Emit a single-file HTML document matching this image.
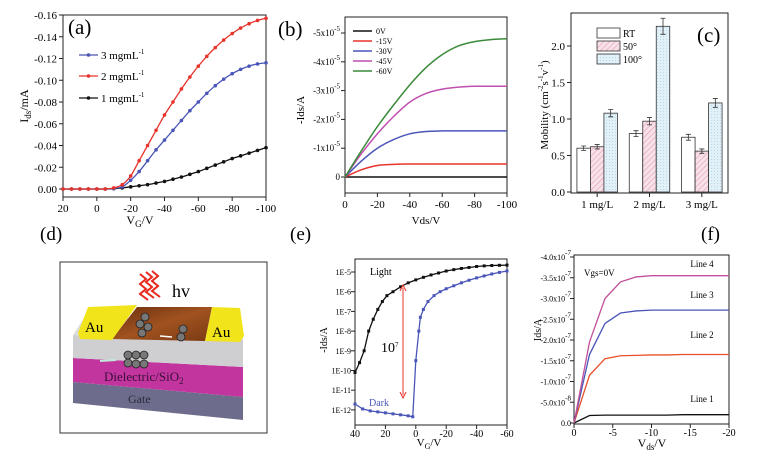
<!DOCTYPE html>
<html><head><meta charset="utf-8"><style>
html,body{margin:0;padding:0;background:#fff;}
svg{display:block;font-family:"Liberation Serif",serif;}
</style></head><body>
<svg id="fig" width="780" height="462" viewBox="0 0 780 462" xmlns="http://www.w3.org/2000/svg">
<defs>
<pattern id="hatchPink" patternUnits="userSpaceOnUse" width="4" height="4" patternTransform="rotate(45)"><rect width="4" height="4" fill="#f8e2ea"/><line x1="0" y1="0" x2="0" y2="4" stroke="#e6a6bb" stroke-width="1.4"/></pattern>
<pattern id="hatchBlue" patternUnits="userSpaceOnUse" width="3" height="3"><rect width="3" height="3" fill="#e2f0f8"/><rect width="1" height="1" fill="#b9d9ea"/></pattern>
<linearGradient id="brownG" x1="0" y1="0" x2="1" y2="1"><stop offset="0" stop-color="#6b2f10"/><stop offset="0.5" stop-color="#a0521f"/><stop offset="1" stop-color="#7a3a14"/></linearGradient>
</defs>

<!-- Panel labels -->
<text x="68" y="34" font-size="21">(a)</text>
<text x="278" y="36" font-size="21">(b)</text>
<text x="697" y="42" font-size="21">(c)</text>
<text x="40" y="240" font-size="19">(d)</text>
<text x="290" y="240" font-size="19">(e)</text>
<text x="701" y="240" font-size="19">(f)</text>

<!-- Panel d schematic -->
<g>
<rect x="60" y="262" width="207" height="171" fill="#fff" stroke="#333" stroke-width="1"/>
<polygon points="73,382 243,397 243,420 73,403" fill="#6e6c8c"/>
<polygon points="73,358 243,367 243,397 73,382" fill="#c2359e"/>
<polygon points="73,335 243,340 243,367 73,358" fill="#cfcfd2"/>
<polygon points="73,335 84,318 240,318 243,340" fill="#dcdcdc"/>
<polygon points="112,339 137,307 212,307 205,341" fill="url(#brownG)"/>
<polygon points="78,333 88,307 137,305 112,340 80,339" fill="#f2e41a"/>
<polygon points="205,341 212,307 240,308 244,336 240,342" fill="#f2e41a"/>
<text x="85" y="332" font-size="15">Au</text>
<text x="212" y="337" font-size="15">Au</text>
<g fill="none" stroke="#e8281c" stroke-width="2">
<path d="M140,274 l6,5 l-6,5 l6,5 l-6,5 l8,6"/><path d="M146,272 l6,5 l-6,5 l6,5 l-6,5 l8,6"/><path d="M152,271 l6,5 l-6,5 l6,5 l-6,5 l8,6"/>
</g>
<text x="172" y="297" font-size="18">hv</text>
<g fill="#777" stroke="#222" stroke-width="0.8">
<circle cx="145" cy="317" r="4"/><circle cx="140" cy="324" r="4"/><circle cx="148" cy="327" r="4"/><circle cx="142" cy="333" r="4"/>
<circle cx="183" cy="329" r="4"/><circle cx="181" cy="337" r="4"/>
<circle cx="128" cy="355" r="4"/><circle cx="136" cy="355" r="4"/><circle cx="144" cy="355" r="4"/><circle cx="128" cy="363" r="4"/><circle cx="136" cy="364" r="4"/><circle cx="144" cy="364" r="4"/>
</g>
<line x1="160" y1="336" x2="172" y2="337" stroke="#fff" stroke-width="1.5"/>
<line x1="100" y1="361" x2="116" y2="360" stroke="#bfe8d8" stroke-width="2"/>
<text x="104" y="381" font-size="13" fill="#3a1038">Dielectric/SiO<tspan font-size="9" dy="3">2</tspan></text>
<text x="128" y="403" font-size="12" fill="#2a2a3a">Gate</text>
</g>
</svg>
<script>
const NS='http://www.w3.org/2000/svg';
const svg=document.getElementById('fig');
function mk(tag,attrs,name,parent){const e=document.createElementNS(NS,tag);for(const k in attrs)e.setAttribute(k,attrs[k]);


(parent||svg).appendChild(e);return e;}
function txt(x,y,s,size,anchor,name,extra){const t=mk('text',Object.assign({x:x,y:y,'font-size':size,'text-anchor':anchor||'start'},extra||{}),name);t.textContent=s;return t;}
function smooth(pts){let d='M'+pts[0][0]+','+pts[0][1];for(let i=0;i<pts.length-1;i++){const p0=pts[i-1]||pts[i],p1=pts[i],p2=pts[i+1],p3=pts[i+2]||p2;
d+=' C'+(p1[0]+(p2[0]-p0[0])/6)+','+(p1[1]+(p2[1]-p0[1])/6)+' '+(p2[0]-(p3[0]-p1[0])/6)+','+(p2[1]-(p3[1]-p1[1])/6)+' '+p2[0]+','+p2[1];}return d;}
function sup(t,base,s){t.textContent=base;const ts=document.createElementNS(NS,'tspan');ts.setAttribute('font-size','7');ts.setAttribute('dy','-5');ts.textContent=s;t.appendChild(ts);}

/* ---------- Panel (a) data ---------- */
const aVg=[20,15,10,5,0,-5,-10,-15,-20,-25,-30,-35,-40,-45,-50,-55,-60,-65,-70,-75,-80,-85,-90,-95,-100];
const a3mg=[0,0,0,0,0,0,0.0005,0.002,0.008,0.016,0.026,0.036,0.045,0.054,0.063,0.072,0.080,0.088,0.095,0.101,0.106,0.110,0.113,0.115,0.116];
const a2mg=[0,0,0,0,0,0,0.001,0.004,0.012,0.026,0.040,0.054,0.068,0.080,0.092,0.103,0.113,0.122,0.130,0.137,0.143,0.148,0.152,0.155,0.157];
const a1mg=[0,0,0,0,0,0,0.0003,0.001,0.002,0.003,0.004,0.0055,0.007,0.009,0.011,0.0135,0.016,0.019,0.022,0.025,0.028,0.0305,0.033,0.0355,0.038];
const aYTicks=[0,0.02,0.04,0.06,0.08,0.10,0.12,0.14,0.16];
const aXTicks=[20,0,-20,-40,-60,-80,-100];

/* ---------- Panel (b) data ---------- */
const bVds=[0,-10,-20,-30,-40,-50,-60,-70,-80,-90,-100];
const bSeriesNames=['0V','-15V','-30V','-45V','-60V'];
const bV0=[0,0,0,0,0,0,0,0,0,0,0];
const bV15=[0,0.25,0.4,0.44,0.45,0.45,0.45,0.45,0.45,0.45,0.45];
const bV30=[0,0.55,1.0,1.3,1.5,1.58,1.6,1.6,1.6,1.6,1.6];
const bV45=[0,0.8,1.5,2.1,2.6,2.9,3.05,3.12,3.15,3.15,3.15];
const bV60=[0,0.9,1.75,2.5,3.2,3.8,4.25,4.55,4.7,4.77,4.8];
const bYTicks=[0,1,2,3,4,5];
const bXTicks=[0,-20,-40,-60,-80,-100];

/* ---------- Panel (c) data ---------- */
const cCats=['1 mg/L','2 mg/L','3 mg/L'];
const cSeries=['RT','50°','100°'];
const cRT=[0.60,0.80,0.75];
const c50=[0.62,0.97,0.56];
const c100=[1.08,2.27,1.22];
const cErrRT=[0.03,0.04,0.04];
const cErr50=[0.03,0.05,0.03];
const cErr100=[0.05,0.11,0.06];
const cYTicks=[0,0.5,1.0,1.5,2.0];

/* ---------- Panel (e) data ---------- */
const eLightV=[40,37,34,31,28,25,22,19,15,10,5,0,-5,-10,-15,-20,-25,-30,-35,-40,-45,-50,-55,-60];
const eLightLog=[-10.1,-9.6,-9.0,-8.0,-7.4,-6.9,-6.5,-6.2,-6.0,-5.75,-5.55,-5.4,-5.27,-5.15,-5.05,-4.95,-4.88,-4.82,-4.77,-4.72,-4.69,-4.67,-4.66,-4.65];
const eDarkV=[40,35,30,25,20,15,10,5,2,0,-2,-3,-5,-8,-12,-16,-20,-25,-30,-35,-40,-45,-50,-55,-60];
const eDarkLog=[-11.7,-11.95,-12.05,-12.1,-12.15,-12.2,-12.25,-12.3,-12.35,-9.5,-8.0,-7.3,-6.9,-6.5,-6.2,-6.0,-5.85,-5.7,-5.55,-5.42,-5.3,-5.2,-5.1,-5.02,-4.95];
const eYTicks=[-5,-6,-7,-8,-9,-10,-11,-12];
const eXTicks=[40,20,0,-20,-40,-60];

/* ---------- Panel (f) data ---------- */
const fVds=[0,-2,-4,-6,-8,-10,-12,-14,-16,-18,-20];
const fLine1=[0,0.18,0.19,0.19,0.19,0.19,0.19,0.2,0.2,0.2,0.2];
const fLine2=[0,1.15,1.55,1.62,1.63,1.64,1.64,1.65,1.65,1.65,1.65];
const fLine3=[0,1.65,2.4,2.65,2.7,2.72,2.72,2.72,2.72,2.72,2.72];
const fLine4=[0,1.95,3.0,3.4,3.52,3.55,3.55,3.55,3.55,3.55,3.55];
const fYTicks=[0,0.5,1.0,1.5,2.0,2.5,3.0,3.5,4.0];
const fXTicks=[0,-5,-10,-15,-20];

function box(x0,y0,x1,y1,name){mk('rect',{x:x0,y:y0,width:x1-x0,height:y1-y0,fill:'none',stroke:'#222','stroke-width':1},name);}

/* ===== Panel (a) ===== */
(function(){
const X0=63,X1=266,Y0=15,Y1=197;
const ax=v=>X0+(20-v)/120*(X1-X0), ay=v=>189-v/0.16*174;
box(X0,Y0,X1,Y1,'plot-a-frame');
aYTicks.forEach(v=>{const y=ay(v);mk('line',{x1:X0-4,y1:y,x2:X0,y2:y,stroke:'#222'},'a-y-tick');
txt(X0-6,y+4,(v===0?'0.00':'-'+v.toFixed(2)),11,'end','a-y-tick-label');});
aXTicks.forEach(v=>{const x=ax(v);mk('line',{x1:x,y1:Y1,x2:x,y2:Y1+4,stroke:'#222'},'a-x-tick');
txt(x,Y1+15,String(v),11,'middle','a-x-tick-label');});
const t=mk('text',{x:28,y:106,'font-size':12,'text-anchor':'middle',transform:'rotate(-90 28 106)'},'a-y-axis-title');
t.innerHTML='I<tspan font-size="9" dy="3">ds</tspan><tspan dy="-3">/mA</tspan>';
const tx=mk('text',{x:140,y:224,'font-size':12,'text-anchor':'middle'},'a-x-axis-title');
tx.innerHTML='V<tspan font-size="9" dy="3">G</tspan><tspan dy="-3">/V</tspan>';
[[a1mg,'#111','1 mgmL','a-series-1mg',98],[a3mg,'#4a55b8','3 mgmL','a-series-3mg',55],[a2mg,'#e8332a','2 mgmL','a-series-2mg',76]].forEach(s=>{
const pts=aVg.map((v,i)=>[ax(v),ay(s[0][i])]);
mk('path',{d:smooth(pts),fill:'none',stroke:s[1],'stroke-width':1.3},s[3]);
pts.forEach(p=>mk('circle',{cx:p[0],cy:p[1],r:1.8,fill:s[1]},s[3]+'-point'));
mk('line',{x1:79,y1:s[4],x2:98,y2:s[4],stroke:s[1],'stroke-width':1.3},'a-legend-line');
mk('circle',{cx:88.5,cy:s[4],r:1.8,fill:s[1]},'a-legend-marker');
const lt=txt(101,s[4]+4,'',11,'start','a-legend-label');sup(lt,s[2],'-1');
});
})();

/* ===== Panel (b) ===== */
(function(){
const X0=345,X1=507,Y0=17,Y1=193;
const bx=v=>X0+(-v)/100*(X1-X0), by=v=>177-v*28.8;
box(X0,Y0,X1,Y1,'plot-b-frame');
bYTicks.forEach(v=>{const y=by(v);mk('line',{x1:X0-4,y1:y,x2:X0,y2:y,stroke:'#222'},'b-y-tick');
const t=txt(X0-5,y+3,'',9,'end','b-y-tick-label');if(v===0)t.textContent='0';else sup(t,'-'+v+'x10','-5');});
bXTicks.forEach(v=>{const x=bx(v);mk('line',{x1:x,y1:Y1,x2:x,y2:Y1+4,stroke:'#222'},'b-x-tick');
txt(x,Y1+15,String(v),11,'middle','b-x-tick-label');});
txt(304,110,'-Ids/A',11,'middle','b-y-axis-title',{transform:'rotate(-90 304 110)'});
txt(426,224,'Vds/V',11,'middle','b-x-axis-title');
const ser=[bV0,bV15,bV30,bV45,bV60], cols=['#111','#e8332a','#4a55b8','#c04fb0','#3a8a3a'];
ser.forEach((s,k)=>{const pts=bVds.map((v,i)=>[bx(v),by(s[i])]);
mk('path',{d:smooth(pts),fill:'none',stroke:cols[k],'stroke-width':1.5},'b-series-'+bSeriesNames[k]);
const ly=31+k*10;mk('line',{x1:353,y1:ly,x2:372,y2:ly,stroke:cols[k],'stroke-width':1.5},'b-legend-line');
txt(376,ly+3,bSeriesNames[k],8,'start','b-legend-label');});
})();

/* ===== Panel (c) ===== */
(function(){
const X0=571,X1=728,Y0=13,Y1=193;
const cy=v=>192-v*73, gw=(X1-X0)/cCats.length, bw=13.5;
box(X0,Y0,X1,Y1,'plot-c-frame');
cYTicks.forEach(v=>{const y=cy(v);mk('line',{x1:X0-4,y1:y,x2:X0,y2:y,stroke:'#222'},'c-y-tick');
txt(X0-6,y+4,v.toFixed(1),11,'end','c-y-tick-label');});
txt(548,105,'',11,'middle','c-y-axis-title',{transform:'rotate(-90 548 105)'}).innerHTML='Mobility (cm<tspan font-size="7" dy="-5">-2</tspan><tspan dy="5">s</tspan><tspan font-size="7" dy="-5">-1</tspan><tspan dy="5">v</tspan><tspan font-size="7" dy="-5">-1</tspan><tspan dy="5">)</tspan>';
const fills=['#fff','url(#hatchPink)','url(#hatchBlue)'], vals=[cRT,c50,c100], errs=[cErrRT,cErr50,cErr100];
cCats.forEach((c,i)=>{const gc=X0+(i+0.5)*gw;
mk('line',{x1:gc,y1:Y1,x2:gc,y2:Y1+4,stroke:'#222'},'c-x-tick');
txt(gc,Y1+15,c,11,'middle','c-x-tick-label');
vals.forEach((s,k)=>{const x=gc+(k-1.5)*bw, y=cy(s[i]);
mk('rect',{x:x,y:y,width:bw,height:cy(0)-y,fill:fills[k],stroke:'#333','stroke-width':0.8},'c-bar-'+cSeries[k]+'-'+(i+1));
const e=errs[k][i],xm=x+bw/2;
mk('path',{d:'M'+xm+','+cy(s[i]+e)+'V'+cy(s[i]-e)+'M'+(xm-2.5)+','+cy(s[i]+e)+'h5M'+(xm-2.5)+','+cy(s[i]-e)+'h5',stroke:'#333','stroke-width':0.8,fill:'none'},'c-error-bar');});});
cSeries.forEach((n,k)=>{const y=33+k*13;
mk('rect',{x:597,y:y-5,width:23,height:10,fill:fills[k],stroke:'#333','stroke-width':0.8},'c-legend-swatch');
txt(623,y+4,n,10,'start','c-legend-label');});
})();

/* ===== Panel (e) ===== */
(function(){
const X0=355,X1=507,Y0=259,Y1=425;
const ex=v=>X0+(40-v)/100*(X1-X0), ey=l=>272-(l+5)*19.7;
box(X0,Y0,X1,Y1,'plot-e-frame');
eYTicks.forEach(l=>{const y=ey(l);mk('line',{x1:X0-4,y1:y,x2:X0,y2:y,stroke:'#222'},'e-y-tick');
txt(X0-4,y+3,'1E'+l,8,'end','e-y-tick-label');});
eXTicks.forEach(v=>{const x=ex(v);mk('line',{x1:x,y1:Y1,x2:x,y2:Y1+4,stroke:'#222'},'e-x-tick');
txt(x,Y1+12,String(v),10,'middle','e-x-tick-label');});
txt(327,340,'-Ids/A',10,'middle','e-y-axis-title',{transform:'rotate(-90 327 340)'});
txt(429,446,'',11,'middle','e-x-axis-title').innerHTML='V<tspan font-size="8" dy="3">G</tspan><tspan dy="-3">/V</tspan>';
[[eLightV,eLightLog,'#111','e-series-light'],[eDarkV,eDarkLog,'#4a55b8','e-series-dark']].forEach(s=>{
const pts=s[0].map((v,i)=>[ex(v),ey(s[1][i])]);
mk('polyline',{points:pts.map(p=>p.join(',')).join(' '),fill:'none',stroke:s[2],'stroke-width':1.3},s[3]);
pts.forEach(p=>mk('rect',{x:p[0]-1.5,y:p[1]-1.5,width:3,height:3,fill:s[2]},s[3]+'-point'));});
mk('line',{x1:403,y1:288,x2:403,y2:395,stroke:'#e8332a','stroke-width':1},'e-ratio-arrow');
mk('path',{d:'M400,291L403,285L406,291M400,392L403,398L406,392',fill:'none',stroke:'#e8332a'},'e-ratio-arrowheads');
const r=txt(381,352,'',14,'start','e-ratio-label');sup(r,'10','7');
txt(370,275,'Light',10,'start','e-light-label');
txt(369,406,'Dark',10,'start','e-dark-label',{fill:'#4a55b8'});
})();

/* ===== Panel (f) ===== */
(function(){
const X0=574,X1=729,Y0=255,Y1=424;
const fx=v=>X0+(-v)/20*(X1-X0), fy=v=>423-v/0.5*20.75;
box(X0,Y0,X1,Y1,'plot-f-frame');
fYTicks.forEach(v=>{const y=fy(v);mk('line',{x1:X0-4,y1:y,x2:X0,y2:y,stroke:'#222'},'f-y-tick');
const t=txt(X0-3,y+3,'',8,'end','f-y-tick-label');
if(v===0)t.textContent='0.0';else if(v===0.5)sup(t,'-5.0x10','-8');else sup(t,'-'+v.toFixed(1)+'x10','-7');});
fXTicks.forEach(v=>{const x=fx(v);mk('line',{x1:x,y1:Y1,x2:x,y2:Y1+4,stroke:'#222'},'f-x-tick');
txt(x,Y1+12,String(v),10,'middle','f-x-tick-label');});
txt(541,330,'Ids/A',10,'middle','f-y-axis-title',{transform:'rotate(-90 541 330)'});
txt(652,447,'',12,'middle','f-x-axis-title').innerHTML='V<tspan font-size="9" dy="3">ds</tspan><tspan dy="-3">/V</tspan>';
txt(584,276,'Vgs=0V',9,'start','f-vgs-label');
[[fLine1,'#111','Line 1',402],[fLine2,'#e8502a','Line 2',338],[fLine3,'#4a55b8','Line 3',298],[fLine4,'#c0509a','Line 4',267]].forEach(s=>{
const pts=fVds.map((v,i)=>[fx(v),fy(s[0][i])]);
mk('polyline',{points:pts.map(p=>p.join(',')).join(' '),fill:'none',stroke:s[1],'stroke-width':1.3},'f-series-'+s[2].replace(' ','-').toLowerCase());
txt(702,s[3],s[2],9,'middle','f-line-label');});
})();
</script>
</body></html>
